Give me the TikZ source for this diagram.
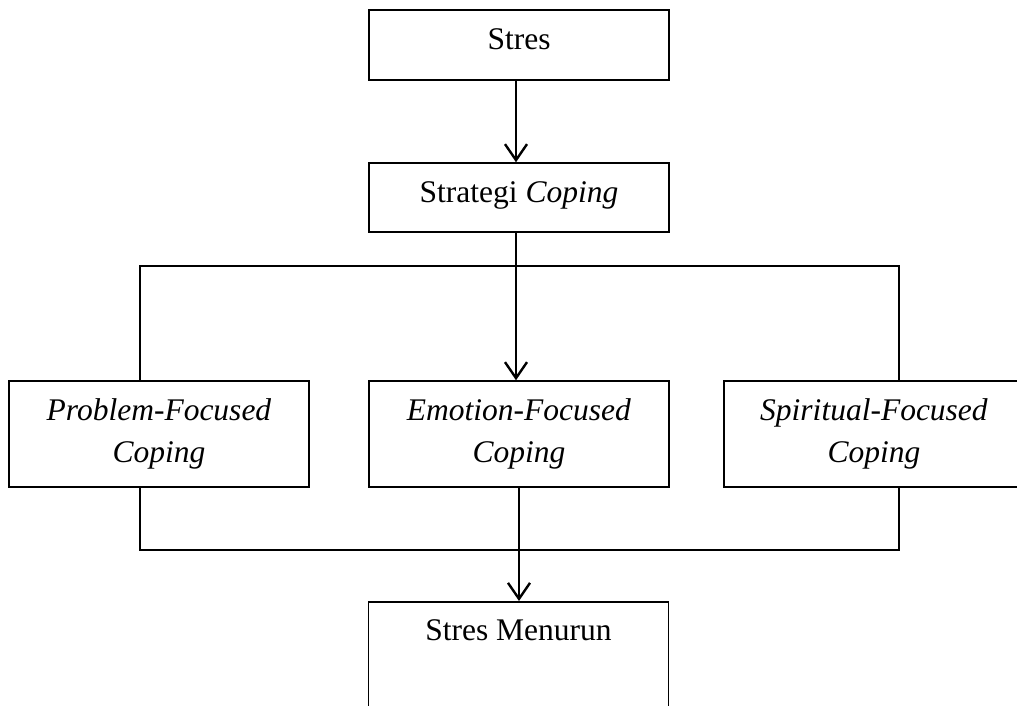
\documentclass[tikz,border=0pt]{standalone}
\usepackage{fontspec}
\setmainfont{Liberation Serif}
\usetikzlibrary{arrows.meta}

\begin{document}
\begin{tikzpicture}[x=1pt,y=-1pt,
  box/.style={draw=black, line width=1.5pt, rectangle, inner sep=0pt,
    minimum width=300pt, align=center,
    font=\fontsize{31.5}{42}\selectfont},
  onebox/.style={box, text height=22pt, text depth=12pt},
  flow/.style={line width=2.4pt, -{Straight Barb[length=16pt,width=22pt]}},
  link/.style={line width=1.5pt}
]
  % page frame
  \useasboundingbox (0,0) rectangle (1017,706);

  % top chain
  \node[onebox, minimum height=70pt] (stres) at (519,45) {Stres};
  \node[onebox, minimum height=69pt] (strat) at (519,197.5) {Strategi \textit{Coping}};

  % the three coping styles
  \node[box, minimum height=106pt] (pfc) at (159,434) {\textit{Problem-Focused}\\\textit{Coping}};
  \node[box, minimum height=106pt] (efc) at (519,434) {\textit{Emotion-Focused}\\\textit{Coping}};
  \node[box, minimum height=106pt] (sfc) at (874,434) {\textit{Spiritual-Focused}\\\textit{Coping}};

  % outcome
  \node[box, anchor=north, text height=39pt, text depth=111pt] (menurun) at (518.5,601) {Stres Menurun};

  % corners of the branch and merge lines
  \coordinate (tl) at (140,266);
  \coordinate (tr) at (899,266);
  \coordinate (bl) at (140,550);
  \coordinate (br) at (899,550);

  % arrows
  \draw[flow] ([xshift=-3pt]stres.south) -- ([xshift=-3pt]strat.north);
  \draw[flow] ([xshift=-3pt]strat.south) -- ([xshift=-3pt]efc.north);

  % branch above the three boxes
  \draw[link] (pfc.north -| tl) -- (tl) -- (tr) -- (sfc.north -| tr);

  % merge below the three boxes
  \draw[link] (pfc.south -| bl) -- (bl) -- (br) -- (sfc.south -| br);
  \draw[link] (efc.south) -- (efc.south |- bl);
  \draw[flow] (efc.south |- bl) -- (efc.south |- menurun.north);
\end{tikzpicture}
\end{document}
